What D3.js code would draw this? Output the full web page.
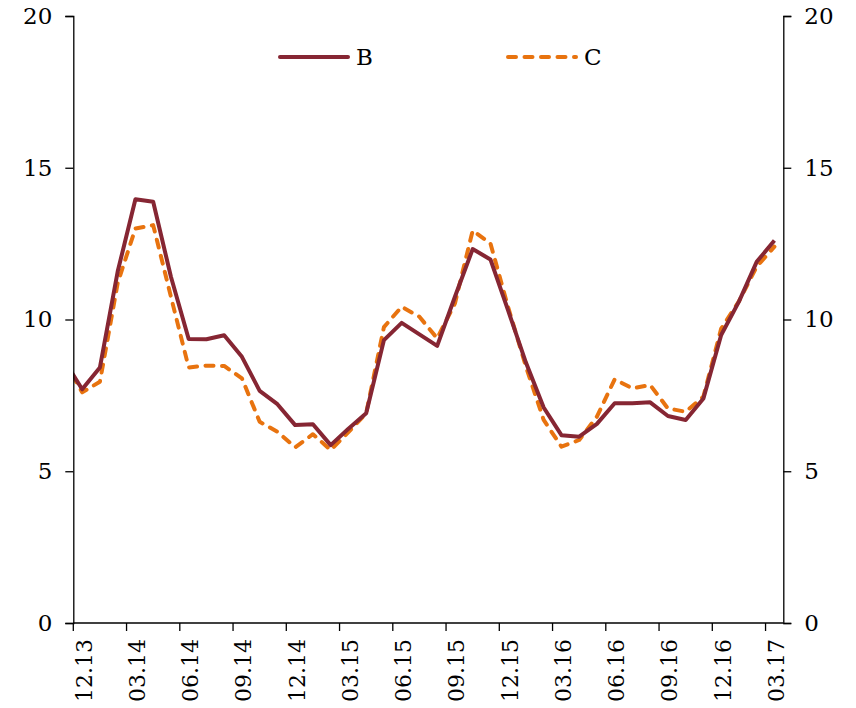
<!DOCTYPE html>
<html>
<head>
<meta charset="utf-8">
<script src="https://cdn.jsdelivr.net/npm/d3@7"></script>
<style>
  html, body { margin: 0; padding: 0; background: #fff; }
  svg { display: block; }
  text { font-family: "DejaVu Serif", "Liberation Serif", serif; fill: #000; }
</style>
</head>
<body>
<div id="chart"></div>
<script>
const months = ["11.13","12.13",
  "01.14","02.14","03.14","04.14","05.14","06.14","07.14","08.14","09.14","10.14","11.14","12.14",
  "01.15","02.15","03.15","04.15","05.15","06.15","07.15","08.15","09.15","10.15","11.15","12.15",
  "01.16","02.16","03.16","04.16","05.16","06.16","07.16","08.16","09.16","10.16","11.16","12.16",
  "01.17","02.17","03.17"];

const seriesB = [8.64, 7.70, 8.42, 11.58, 13.96, 13.88, 11.41, 9.36, 9.35, 9.48, 8.77, 7.65, 7.21, 6.52,
  6.55, 5.86, 6.40, 6.91, 9.32, 9.89, 9.51, 9.13, 10.75, 12.32, 11.98, 10.29, 8.58, 7.10, 6.19, 6.14,
  6.56, 7.24, 7.24, 7.27, 6.82, 6.69, 7.40, 9.49, 10.59, 11.90, 12.60];

const seriesC = [8.63, 7.60, 7.95, 11.2, 13.0, 13.11, 10.75, 8.42, 8.48, 8.47, 8.06, 6.63, 6.30, 5.79,
  6.22, 5.70, 6.29, 6.91, 9.75, 10.42, 10.09, 9.38, 10.53, 12.93, 12.51, 10.4, 8.45, 6.69, 5.81, 6.03,
  6.80, 8.03, 7.73, 7.84, 7.07, 6.96, 7.46, 9.7, 10.6, 11.74, 12.40];

const tickLabels = ["12.13","03.14","06.14","09.14","12.14","03.15","06.15","09.15","12.15",
  "03.16","06.16","09.16","12.16","03.17"];
const yTicks = [0, 5, 10, 15, 20];

const seriesNames = ["B", "C"];
const colors = { B: "#862633", C: "#E8730F" };

(function () {
const W = 856, H = 708;
const pLeft = 73.3, pRight = 783.3, pTop = 16, pBottom = 623;
const nShown = months.length - 1;
const step = (pRight - pLeft) / nShown;
const fontSize = "23px";
const lw = 4;
const dash = "8,8.5";

const svg = d3.select("#chart").append("svg")
  .attr("width", W).attr("height", H)
  .attr("viewBox", `0 0 ${W} ${H}`);
svg.append("rect").attr("width", W).attr("height", H).attr("fill", "#fff");

const x = d3.scalePoint().domain(months)
  .range([pLeft - step / 2, pRight - step / 2]);
const y = d3.scaleLinear().domain([0, 20]).range([pBottom, pTop]);

svg.append("defs").append("clipPath").attr("id", "plotclip")
  .append("rect").attr("x", pLeft).attr("y", 0).attr("width", pRight - pLeft).attr("height", H);

const line = d3.line().x((d, i) => x(months[i])).y(d => y(d));

const g = svg.append("g").attr("clip-path", "url(#plotclip)");
g.append("path").datum(seriesC)
  .attr("d", line).attr("fill", "none")
  .attr("stroke", colors.C).attr("stroke-width", lw)
  .attr("stroke-dasharray", dash).attr("stroke-linecap", "round")
  .attr("stroke-linejoin", "round");
g.append("path").datum(seriesB)
  .attr("d", line).attr("fill", "none")
  .attr("stroke", colors.B).attr("stroke-width", lw)
  .attr("stroke-linejoin", "round");

const yAxisL = d3.axisLeft(y).tickValues(yTicks).tickSize(8).tickPadding(13);
const yAxisR = d3.axisRight(y).tickValues(yTicks).tickSize(8).tickPadding(13);
const gl = svg.append("g").attr("transform", `translate(${pLeft},0)`).call(yAxisL);
const gr = svg.append("g").attr("transform", `translate(${pRight},0)`).call(yAxisR);
[gl, gr].forEach(a => {
  a.select(".domain").attr("stroke", "#000").attr("stroke-width", 1.3);
  a.selectAll(".tick line").attr("stroke", "#000").attr("stroke-width", 1.3);
  a.selectAll(".tick text").style("font-size", fontSize).style("font-family", "DejaVu Serif").attr("fill", "#000");
});

const gx = svg.append("g");
gx.append("line").attr("x1", pLeft).attr("x2", pRight).attr("y1", pBottom).attr("y2", pBottom)
  .attr("stroke", "#000").attr("stroke-width", 1.3);
const tk = gx.selectAll("g.xt").data(tickLabels).join("g").attr("class", "xt");
tk.append("line")
  .attr("x1", d => x(d) - step / 2).attr("x2", d => x(d) - step / 2)
  .attr("y1", pBottom).attr("y2", pBottom + 8)
  .attr("stroke", "#000").attr("stroke-width", 1.3);
tk.append("text")
  .attr("transform", d => `translate(${x(d) + 1.5},${pBottom + 16}) rotate(-90)`)
  .attr("text-anchor", "end").attr("dy", "0.36em")
  .style("font-size", "22px")
  .text(d => d);

const legendItems = [
  { name: "B", x1: 280, x2: 348, dash: null },
  { name: "C", x1: 508, x2: 576, dash: dash }
];
const lg = svg.append("g");
legendItems.forEach(it => {
  const ln = lg.append("line").attr("x1", it.x1).attr("x2", it.x2)
    .attr("y1", 57).attr("y2", 57)
    .attr("stroke", colors[it.name]).attr("stroke-width", lw).attr("stroke-linecap", "round");
  if (it.dash) ln.attr("stroke-dasharray", it.dash);
  lg.append("text").attr("x", it.x2 + 8).attr("y", 57).attr("dy", "0.36em")
    .style("font-size", fontSize).text(it.name);
});
})();
</script>
</body>
</html>
